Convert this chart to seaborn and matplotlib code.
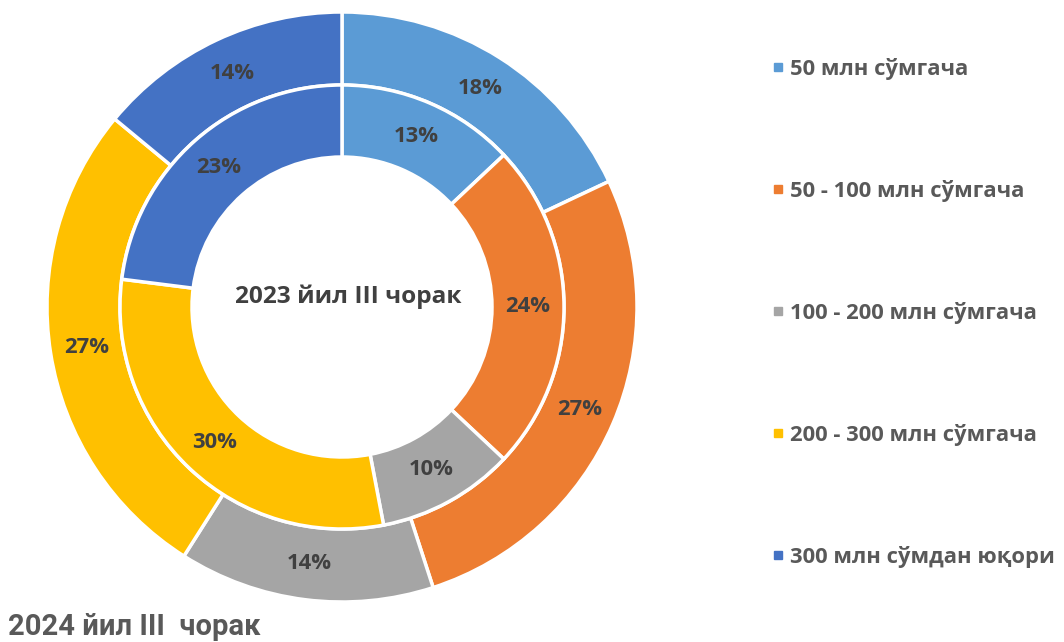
import matplotlib
matplotlib.use("Agg")
import matplotlib.pyplot as plt
import seaborn as sns
from matplotlib.lines import Line2D

categories = ["50 млн сўмгача", "50 - 100 млн сўмгача", "100 - 200 млн сўмгача",
              "200 - 300 млн сўмгача", "300 млн сўмдан юқори"]
outer_2024 = [18, 27, 14, 27, 14]
inner_2023 = [13, 24, 10, 30, 23]
center_title = "2023 йил III чорак"
corner_title = "2024 йил III  чорак"

sns.set_theme(style="white")
plt.rcParams['font.family'] = ['Open Sans', 'DejaVu Sans']
colors = sns.color_palette(["#5B9BD5", "#ED7D31", "#A5A5A5", "#FFC000", "#4472C4"])

W, H = 1064, 642
fig = plt.figure(figsize=(W / 100, H / 100), dpi=100)
cx, cy, R = 342, 307, 295
ax = fig.add_axes([(cx - R) / W, (H - cy - R) / H, 2 * R / W, 2 * R / H])

r_mid = 222 / R
r_in = 150 / R
lbl = dict(color="#404040", fontsize=15.8, fontweight="bold")

wo, to = ax.pie(outer_2024, radius=1.0, colors=colors, startangle=90, counterclock=False,
                labels=[f"{v}%" for v in outer_2024], labeldistance=(1 + r_mid) / 2,
                wedgeprops=dict(width=1 - r_mid, edgecolor="white", linewidth=2.5),
                textprops=lbl)
wi, ti = ax.pie(inner_2023, radius=r_mid, colors=colors, startangle=90, counterclock=False,
                labels=[f"{v}%" for v in inner_2023], labeldistance=(r_mid + r_in) / 2 / r_mid,
                wedgeprops=dict(width=r_mid - r_in, edgecolor="white", linewidth=2.5),
                textprops=lbl)
for t in list(to) + list(ti):
    t.set_ha("center")
    t.set_va("center")
ax.set_xlim(-1.0, 1.0)
ax.set_ylim(-1.0, 1.0)
ax.set_aspect("equal")
ax.axis("off")

ax.text(0.02, 0.034, center_title, ha="center", va="center", color="#404040",
        fontsize=17.6, fontweight="bold")

handles = [Line2D([0], [0], marker="s", linestyle="", markersize=6,
                  markerfacecolor=c, markeredgecolor=c) for c in colors]
leg = fig.legend(handles, categories, loc="upper left", bbox_to_anchor=(763 / W, 1 - 49 / H),
                 frameon=False, prop=dict(family=['Open Sans', 'DejaVu Sans'], size=15.8, weight="bold"),
                 labelspacing=4.56, handlelength=0.6, handletextpad=0.25, borderaxespad=0)
for t in leg.get_texts():
    t.set_color("#595959")

fig.text(8 / W, 1 - 627 / H, corner_title, ha="left", va="center", color="#595959",
         fontsize=21, fontweight="bold", family=['Roboto', 'DejaVu Sans'])

fig.savefig("out.png", dpi=100)
